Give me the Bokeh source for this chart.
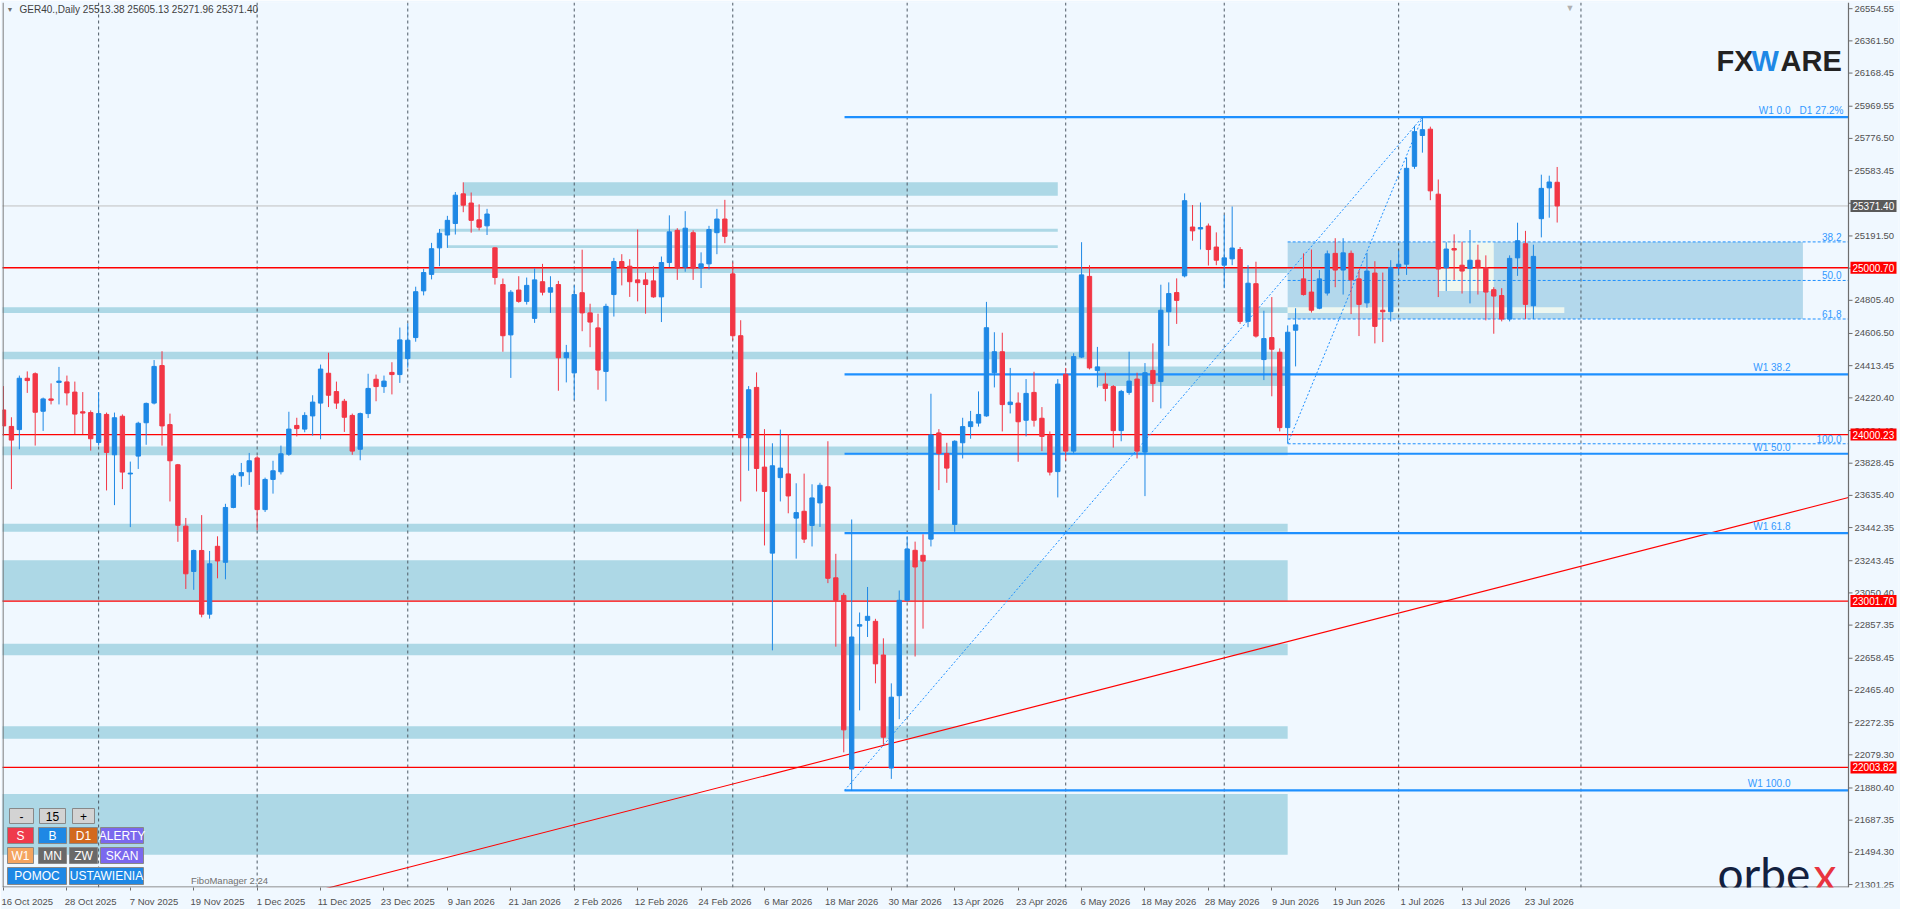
import numpy as np
from bokeh.plotting import figure
from bokeh.models import Range1d, FixedTicker, Label
from bokeh.core.properties import value
from bokeh.embed import file_html
from bokeh.resources import INLINE

# ---------------- data ----------------
symbol = "GER40.,Daily"
opens = [24148, 24049, 24030, 24338, 24365, 24140, 24214, 24313, 24316, 24255,
         24137, 24132, 23953, 24121, 23879, 24110, 23764, 23871, 24071, 24189,
         24414, 24060, 23819, 23451, 23179, 23305, 22923, 23330, 23234, 23563,
         23753, 23777, 23860, 23550, 23731, 23777, 23882, 24055, 24033, 24112,
         24189, 24368, 24258, 24200, 24115, 23912, 24126, 24332, 24288, 24373,
         24360, 24456, 24582, 24862, 24961, 25120, 25197, 25266, 25444, 25389,
         25288, 25252, 25120, 24900, 24598, 24867, 24799, 24697, 24917, 24854,
         24900, 24461, 24370, 24851, 24730, 24640, 24379, 24840, 25038, 25010,
         24928, 24928, 24922, 24826, 25032, 25225, 25005, 25211, 24999, 25024,
         25211, 25293, 24964, 24593, 23981, 24283, 23805, 23289, 23742, 23764,
         23499, 23540, 23455, 23590, 23687, 23141, 23036, 21994, 22851, 22886,
         22880, 22678, 22000, 22434, 23006, 23306, 23276, 23373, 24010, 23887,
         23461, 23951, 24048, 24069, 24112, 24371, 24497, 24180, 24189, 24086,
         24253, 24098, 23995, 23778, 24362, 23901, 24465, 24949, 24385, 24303,
         24288, 24024, 24253, 24333, 23895, 24385, 24318, 24737, 24852, 24952,
         25245, 25233, 25251, 25125, 25016, 25054, 25110, 24679, 24905, 24450,
         24582, 24494, 24042, 24626, 24934, 24855, 24758, 24849, 25087, 24987,
         25087, 24934, 24790, 24969, 24746, 24737, 25007, 25022, 25609, 25794,
         25832, 25442, 25001, 25116, 25016, 24996, 25046, 25001, 24869, 24834,
         24693, 25060, 25145, 24773, 25295, 25480, 25513.38]
highs = [24291, 24104, 24354, 24379, 24373, 24222, 24307, 24406, 24354, 24318,
         24255, 24145, 24255, 24132, 24132, 24121, 23838, 24077, 24192, 24447,
         24500, 24126, 23824, 23500, 23310, 23517, 23302, 23390, 23585, 23766,
         23830, 23890, 23871, 23742, 23843, 23934, 24137, 24101, 24134, 24236,
         24420, 24491, 24318, 24214, 24126, 24132, 24365, 24360, 24354, 24434,
         24642, 24667, 24887, 24994, 25150, 25233, 25312, 25455, 25513, 25452,
         25381, 25354, 25123, 24936, 24867, 24950, 24942, 24997, 25024, 24950,
         24922, 24538, 24895, 25109, 24785, 24725, 24785, 25060, 25082, 25052,
         25230, 24972, 25010, 25068, 25315, 25238, 25340, 25225, 25093, 25252,
         25354, 25408, 25032, 24686, 24291, 24373, 24033, 23948, 24030, 24003,
         23708, 23766, 23702, 23711, 23960, 23285, 23050, 23491, 22933, 23086,
         22895, 22778, 22508, 23065, 23388, 23358, 23402, 24245, 24033, 23951,
         23966, 24101, 24142, 24259, 24796, 24614, 24611, 24400, 24253, 24333,
         24377, 24165, 24019, 24333, 24400, 24488, 25154, 25016, 24526, 24371,
         24297, 24268, 24497, 24371, 24429, 24547, 24899, 24913, 24937, 25447,
         25377, 25392, 25266, 25213, 25318, 25368, 25125, 25016, 25037, 24743,
         24825, 24517, 24655, 24758, 25087, 25110, 24987, 25104, 25178, 25178,
         25104, 24987, 25090, 25040, 24972, 25046, 25104, 25662, 25852, 25904,
         25847, 25530, 25154, 25201, 25157, 25227, 25139, 25075, 24884, 24878,
         25075, 25271, 25222, 25139, 25559, 25553, 25605.13]
lows = [23994, 23673, 23912, 24250, 23934, 24022, 24181, 24181, 24175, 24003,
        24003, 23904, 23934, 23665, 23577, 23673, 23445, 23794, 23939, 24181,
        23934, 23599, 23357, 23074, 23069, 22904, 22896, 23138, 23132, 23558,
        23687, 23698, 23426, 23536, 23646, 23761, 23873, 23989, 24014, 23994,
        23972, 24165, 24154, 24016, 23879, 23846, 24099, 24200, 24250, 24241,
        24310, 24401, 24557, 24835, 24931, 25010, 25120, 25200, 25334, 25211,
        25225, 25197, 24900, 24497, 24340, 24791, 24780, 24670, 24835, 24730,
        24263, 24313, 24208, 24620, 24524, 24269, 24200, 24708, 24895, 24826,
        24799, 24725, 24821, 24675, 25005, 24928, 24977, 24928, 24879, 24991,
        25082, 25148, 24566, 23599, 23783, 23659, 23335, 22706, 23599, 23528,
        23256, 23350, 23329, 23446, 23109, 22728, 22094, 21865, 22346, 22786,
        22508, 22141, 21935, 22293, 22998, 22669, 22836, 23329, 23667, 23711,
        23417, 23857, 23975, 24048, 24107, 24283, 24019, 24127, 23837, 23989,
        24048, 23901, 23755, 23623, 23843, 23887, 24459, 24391, 24283, 24200,
        23922, 23960, 24239, 23857, 23631, 24195, 24157, 24532, 24664, 24943,
        25163, 25110, 25014, 25016, 24878, 25016, 24664, 24644, 24582, 24327,
        24230, 24019, 23950, 24409, 24834, 24732, 24752, 24834, 24884, 24840,
        24723, 24591, 24761, 24547, 24555, 24679, 24958, 24958, 25594, 25691,
        25406, 24825, 24861, 24928, 24846, 24787, 24840, 24685, 24605, 24679,
        24679, 24952, 24693, 24693, 25183, 25301, 25271.96]
closes = [24052, 23967, 24338, 24324, 24134, 24214, 24206, 24321, 24250, 24123,
          24129, 23975, 24126, 23893, 24101, 23775, 23769, 24068, 24187, 24409,
          24052, 23843, 23456, 23165, 23305, 22923, 23225, 23242, 23563, 23753,
          23772, 23843, 23550, 23731, 23783, 23885, 24033, 24036, 24115, 24195,
          24393, 24236, 24189, 24104, 23901, 24126, 24277, 24288, 24321, 24360,
          24568, 24566, 24857, 24972, 25115, 25208, 25285, 25436, 25376, 25285,
          25244, 25323, 24942, 24593, 24854, 24799, 24895, 24928, 24854, 24881,
          24461, 24491, 24840, 24730, 24675, 24387, 24769, 25038, 25005, 24917,
          24911, 24900, 24826, 25032, 25216, 24999, 25238, 24999, 25024, 25230,
          25293, 25189, 24593, 23981, 24269, 23797, 23659, 23813, 23799, 23632,
          23532, 23373, 23620, 23696, 23138, 23006, 22229, 22786, 22860, 22910,
          22625, 22185, 22425, 23006, 23314, 23206, 23241, 23998, 23887, 23799,
          23960, 24048, 24077, 24121, 24641, 24497, 24180, 24195, 24077, 24247,
          24086, 23989, 23775, 24303, 23901, 24468, 24958, 24400, 24406, 24277,
          24024, 24259, 24321, 23901, 24371, 24306, 24746, 24846, 24805, 25403,
          25222, 25242, 25110, 25046, 25060, 25119, 24679, 24908, 24591, 24576,
          24512, 24042, 24614, 24658, 24840, 24746, 24934, 25084, 24987, 25090,
          24928, 24781, 24981, 24649, 24737, 25001, 25022, 25597, 25817, 25829,
          25462, 24993, 25113, 25107, 24981, 25046, 25001, 24855, 24831, 24693,
          25057, 25163, 24781, 25069, 25477, 25515, 25371.40]

date_label_bars = [0, 8, 16, 24, 32, 40, 48, 56, 64, 72, 80, 88, 96,
                   104, 112, 120, 128, 136, 144, 152, 160, 168, 176, 184, 192]
date_labels = ["16 Oct 2025", "28 Oct 2025", "7 Nov 2025", "19 Nov 2025", "1 Dec 2025",
               "11 Dec 2025", "23 Dec 2025", "9 Jan 2026", "21 Jan 2026", "2 Feb 2026",
               "12 Feb 2026", "24 Feb 2026", "6 Mar 2026", "18 Mar 2026", "30 Mar 2026",
               "13 Apr 2026", "23 Apr 2026", "6 May 2026", "18 May 2026", "28 May 2026",
               "9 Jun 2026", "19 Jun 2026", "1 Jul 2026", "13 Jul 2026", "23 Jul 2026"]
month_start_bars = [12, 32, 51, 72, 92, 114, 134, 154, 176, 199]
price_ticks = [26554.55, 26361.50, 26168.45, 25969.55, 25776.50, 25583.45, 25387.45,
               25191.50, 24998.45, 24805.40, 24606.50, 24413.45, 24220.40, 24024.40,
               23828.45, 23635.40, 23442.35, 23243.45, 23050.40, 22857.35, 22658.45,
               22465.40, 22272.35, 22079.30, 21880.40, 21687.35, 21494.30, 21301.25]

level_lines = [25000.70, 24000.23, 23001.70, 22003.82]
last_price = closes[-1]

# support / resistance zones (price bottom/top, bar start/end)
zone_bottom = [25433, 25217, 25119, 24970, 24729, 24452, 24291, 23876, 23418, 23003, 22677, 22175, 21480]
zone_top = [25513, 25234, 25136, 25002, 24764, 24497, 24409, 23929, 23465, 23247, 22745, 22250, 21844]
zone_start = [58, 55, 56, 54, -2, -2, 138, -2, -2, -2, -2, -2, -2]
zone_end = [133, 133, 133, 162, 162, 162, 162, 162, 162, 162, 162, 162, 162]
# light overlap pieces inside the D1 box
light_bottom = [24729, 24862]
light_top = [24764, 25158]
light_start = [162, 181.1]
light_end = [196.9, 188]

# Fibonacci tools
w1_fib_bars = [106.1, 179.0]
w1_fib_prices = [21866, 25904]
w1_levels = [0.0, 38.2, 50.0, 61.8, 100.0]
d1_fib_bars = [162.0, 179.0]
d1_fib_prices = [23945, 25904]
d1_levels = [38.2, 50.0, 61.8, 100.0]
d1_box_end_bar = 227
d1_ext_label = "D1 27.2%"

# red trend line anchors
trend_bars = [98.4, 198.4]
trend_prices = [21982, 23203]

shift_marker_bar = 197.6

# ---------------- style ----------------
BG = "#F0F8FF"
BAND = "#ADD8E6"
ZONE = "#B3D8EC"
LIGHT = "#EEF7F0"
BULL = "#1E88E5"
BEAR = "#F23645"
AX = "#6E6E6E"
FIBC = "#1E90FF"
FIBT = "#3399FF"
LBL = "#505050"
FONT = "Liberation Sans"

CW = 1846          # chart area width (px)
AXW = 50           # price-scale width (px)
FW, FH = CW + AXW, 885
X0, X1 = -0.125, 232.75     # X1 = position of the price scale
Y0, Y1 = 21283.5, 26591.7
SX = CW / (X1 - X0)
SY = FH / (Y1 - Y0)
XR = X0 + FW / SX


def fx(px):
    return X0 + px / SX


def fxr(px):
    return X1 - px / SX


def fyt(px):
    return Y1 - px / SY


def fyb(px):
    return Y0 + px / SY


p = figure(frame_width=FW, frame_height=FH,
           x_range=Range1d(X0, XR), y_range=Range1d(Y0, Y1),
           output_backend="svg", toolbar_location=None, y_axis_location=None,
           min_border_left=2, min_border_top=2, min_border_right=2, min_border_bottom=18,
           background_fill_color=BG, border_fill_color=BG, outline_line_color=None)
p.xgrid.visible = False
p.ygrid.visible = False

# x axis (labels start at their bar, MT4-like)
LABEL_SHIFT = 3
xa = p.xaxis[0]
xa.ticker = FixedTicker(ticks=[b + LABEL_SHIFT for b in date_label_bars], minor_ticks=date_label_bars)
xa.major_label_overrides = {b + LABEL_SHIFT: t for b, t in zip(date_label_bars, date_labels)}
xa.major_tick_line_color = None
xa.minor_tick_line_color = AX
xa.minor_tick_out = 3
xa.minor_tick_in = 0
xa.axis_line_color = None
xa.major_label_standoff = 2
xa.major_label_text_font = FONT
xa.major_label_text_font_size = "9.5px"
xa.major_label_text_color = LBL


def fib_price(lo, hi, lvl):
    return hi - lvl / 100.0 * (hi - lo)


w1_lo, w1_hi = w1_fib_prices
d1_lo, d1_hi = d1_fib_prices

# D1 box
p.quad(left=[d1_fib_bars[0]], right=[d1_box_end_bar],
       bottom=[fib_price(d1_lo, d1_hi, 61.8)], top=[fib_price(d1_lo, d1_hi, 38.2)],
       fill_color=ZONE, line_color=None)
# zones
p.quad(left=zone_start, right=zone_end, bottom=zone_bottom, top=zone_top,
       fill_color=BAND, line_color=None)
p.quad(left=light_start, right=light_end, bottom=light_bottom, top=light_top,
       fill_color=LIGHT, line_color=None)

# vertical grid
p.segment(x0=month_start_bars, y0=[Y0] * len(month_start_bars),
          x1=month_start_bars, y1=[Y1] * len(month_start_bars),
          line_color="#4E5A66", line_dash="3 3", line_width=1)

# horizontal lines
p.segment(x0=[X0 - 1] * len(level_lines), y0=level_lines, x1=[X1] * len(level_lines), y1=level_lines,
          line_color="#FF0000", line_width=1.3)
p.segment(x0=[X0 - 1], y0=[last_price], x1=[X1], y1=[last_price], line_color="#C0C0C0", line_width=1)

# trend line (extended ray)
slope = (trend_prices[1] - trend_prices[0]) / (trend_bars[1] - trend_bars[0])
p.line(x=[X0 - 1, X1],
       y=[trend_prices[0] + slope * (X0 - 1 - trend_bars[0]), trend_prices[0] + slope * (X1 - trend_bars[0])],
       line_color="#FF0000", line_width=1.1)

# W1 fibo
w1_prices = [fib_price(w1_lo, w1_hi, l) for l in w1_levels]
p.segment(x0=[w1_fib_bars[0]] * len(w1_prices), y0=w1_prices, x1=[X1] * len(w1_prices), y1=w1_prices,
          line_color=FIBC, line_width=2.2)
p.line(x=w1_fib_bars, y=w1_fib_prices, line_color=FIBC, line_dash="2 2", line_width=1)
# D1 fibo
d1_prices = [fib_price(d1_lo, d1_hi, l) for l in d1_levels]
p.segment(x0=[d1_fib_bars[0]] * len(d1_prices), y0=d1_prices, x1=[X1] * len(d1_prices), y1=d1_prices,
          line_color=FIBC, line_dash="3 2", line_width=1)
p.line(x=d1_fib_bars, y=d1_fib_prices, line_color=FIBC, line_dash="2 2", line_width=1)

# candles
o = np.array(opens, dtype=float)
h = np.array(highs, dtype=float)
lo_ = np.array(lows, dtype=float)
c = np.array(closes, dtype=float)
x = np.arange(len(o))
cols = np.where(c >= o, BULL, BEAR)
p.segment(x0=x, y0=h, x1=x, y1=lo_, line_color=cols, line_width=1)
p.vbar(x=x, width=0.55, top=np.maximum(o, c), bottom=np.minimum(o, c),
       fill_color=cols, line_color=cols, line_width=1)

# chart borders and price scale
p.segment(x0=[fx(0.5), X0, X1], y0=[Y0, fyb(0.5), Y0], x1=[fx(0.5), X1, X1], y1=[Y1, fyb(0.5), Y1],
          line_color=AX, line_width=1.2)
n = len(price_ticks)
p.segment(x0=[X1] * n, y0=price_ticks, x1=[X1 + 4 / SX] * n, y1=price_ticks, line_color=AX, line_width=1)
p.text(x=[X1 + 6 / SX] * n, y=price_ticks, text=[f"{t:.2f}" for t in price_ticks],
       text_align="left", text_baseline="middle", text_font=value(FONT), text_font_size="9.5px",
       text_color=LBL)

# price boxes on the scale
box_prices = level_lines + [last_price]
box_colors = ["#FF0000"] * len(level_lines) + ["#5A5A5A"]
p.rect(x=[X1 + 25 / SX] * len(box_prices), y=box_prices, width=46, height=12,
       width_units="screen", height_units="screen", fill_color=box_colors, line_color=None)
p.text(x=[X1 + 4 / SX] * len(box_prices), y=box_prices, text=[f"{b:.2f}" for b in box_prices],
       text_align="left", text_baseline="middle", text_font=value(FONT), text_font_size="10px",
       text_color="white")

# fib labels
for lvl, pr in zip(w1_levels, w1_prices):
    p.add_layout(Label(x=fxr(58), y=pr, text=f"W1 {lvl:.1f}", text_align="right", text_baseline="bottom",
                       y_offset=1, text_font=FONT, text_font_size="10px", text_color=FIBT))
p.add_layout(Label(x=fxr(5), y=w1_prices[0], text=d1_ext_label, text_align="right", text_baseline="bottom",
                   y_offset=1, text_font=FONT, text_font_size="10px", text_color=FIBT))
for lvl, pr in zip(d1_levels, d1_prices):
    p.add_layout(Label(x=fxr(7), y=pr, text=f"{lvl:.1f}", text_align="right", text_baseline="bottom",
                       y_offset=1, text_font=FONT, text_font_size="10px", text_color=FIBT))

# header
p.add_layout(Label(x=fx(4), y=fyt(7), text="▼", text_align="left", text_baseline="middle",
                   text_font=FONT, text_font_size="7px", text_color="#707070"))
p.add_layout(Label(x=fx(17), y=fyt(7), text_align="left", text_baseline="middle",
                   text=f"{symbol}  {opens[-1]:.2f} {highs[-1]:.2f} {lows[-1]:.2f} {closes[-1]:.2f}",
                   text_font=FONT, text_font_size="10px", text_color="#404040"))
# chart shift marker
p.add_layout(Label(x=shift_marker_bar, y=Y1, text="▼", text_align="center", text_baseline="top",
                   text_font=FONT, text_font_size="9px", text_color="#B0B0B0"))

# FXWARE logo
for t, px, col in [("FX", 132, "#222222"), ("W", 97, "#1E88E5"), ("ARE", 68, "#222222")]:
    p.add_layout(Label(x=fxr(px), y=fyt(58), text=t, text_align="left", text_baseline="alphabetic",
                       text_font=FONT, text_font_style="bold", text_font_size="29px", text_color=col))
# orbex logo
for t, px, col in [("orbe", 131, "#13213F"), ("x", 35, "#E8343F")]:
    p.add_layout(Label(x=fxr(px), y=fyb(14), text=t, text_align="left", text_baseline="alphabetic",
                       text_font="Lato", text_font_size="46px", text_color=col))

# FiboManager tag
p.add_layout(Label(x=fx(227), y=fyb(7), text="FiboManager 2.24", text_align="center", text_baseline="middle",
                   text_font=FONT, text_font_size="9.5px", text_color="#707070"))

# panel buttons
buttons = [
    ("-", "#D3D3D3", "black", 19, 71.5, 24, 15),
    ("15", "#D3D3D3", "black", 50, 71.5, 26, 15),
    ("+", "#D3D3D3", "black", 81, 71.5, 22, 15),
    ("S", "#EF3A4B", "white", 18, 52, 26, 16),
    ("B", "#1E88E5", "white", 50, 52, 28, 16),
    ("D1", "#D2691E", "white", 81, 52, 28, 16),
    ("ALERTY", "#7B68EE", "white", 119.5, 52, 43, 16),
    ("W1", "#F4A460", "white", 18, 32, 26, 16),
    ("MN", "#696969", "white", 50, 32, 28, 16),
    ("ZW", "#696969", "white", 81, 32, 28, 16),
    ("SKAN", "#7B68EE", "white", 119.5, 32, 43, 16),
    ("POMOC", "#1E88E5", "white", 34.5, 11.5, 59, 17),
    ("USTAWIENIA", "#1E88E5", "white", 104, 11.5, 74, 17),
]
bx = [fx(b[3]) for b in buttons]
by = [fyb(b[4]) for b in buttons]
p.rect(x=bx, y=by, width=[b[5] for b in buttons], height=[b[6] for b in buttons],
       width_units="screen", height_units="screen",
       fill_color=[b[1] for b in buttons], line_color="#888888", line_width=1)
p.text(x=bx, y=by, text=[b[0] for b in buttons], text_color=[b[2] for b in buttons],
       text_align="center", text_baseline="middle", text_font=value(FONT), text_font_size="12px")

open("out.html", "w").write(file_html(p, INLINE))
